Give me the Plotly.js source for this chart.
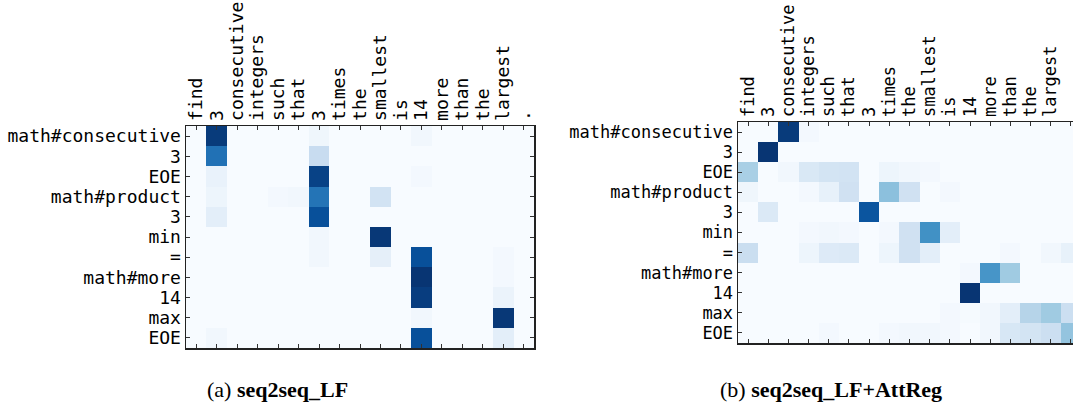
<!DOCTYPE html>
<html>
<head>
<meta charset="utf-8">
<script src="https://cdn.plot.ly/plotly-3.0.1.min.js"></script>
<style>
  html, body { margin: 0; padding: 0; background: #fff; overflow: hidden; width: 1073px; height: 405px; }
  #chart { width: 1090px; height: 405px; }
</style>
</head>
<body>
<div id="chart"></div>
<script>
// Input tokens (columns) and output tokens (rows)
const inputTokens = ["find", "3", "consecutive", "integers", "such", "that", "3", "times", "the", "smallest", "is", "14", "more", "than", "the", "largest", "."];
const outputTokens = ["math#consecutive", "3", "EOE", "math#product", "3", "min", "=", "math#more", "14", "max", "EOE"];
// the right panel is cropped at the image edge: only the first 16 input labels are visible
const visibleRightLabels = 16;

// (a) seq2seq_LF attention weights (rows = outputTokens, cols = inputTokens)
const attnLF = [
  [0, 0.96, 0, 0, 0, 0, 0.04, 0, 0, 0, 0, 0.03, 0, 0, 0, 0, 0],
  [0, 0.75, 0, 0, 0, 0, 0.24, 0, 0, 0, 0, 0, 0, 0, 0, 0, 0],
  [0, 0.07, 0, 0, 0, 0, 0.93, 0, 0, 0, 0, 0.02, 0, 0, 0, 0, 0],
  [0, 0.05, 0, 0, 0.02, 0.03, 0.74, 0, 0, 0.19, 0, 0, 0, 0, 0, 0, 0],
  [0, 0.10, 0, 0, 0, 0, 0.88, 0, 0, 0, 0, 0, 0, 0, 0, 0, 0],
  [0, 0, 0, 0, 0, 0, 0.03, 0, 0, 0.97, 0, 0, 0, 0, 0, 0, 0],
  [0, 0, 0, 0, 0, 0, 0.03, 0, 0, 0.09, 0, 0.88, 0, 0, 0, 0.02, 0],
  [0, 0, 0, 0, 0, 0, 0, 0, 0, 0, 0, 0.98, 0, 0, 0, 0.02, 0],
  [0, 0, 0, 0, 0, 0, 0, 0, 0, 0, 0, 0.95, 0, 0, 0, 0.06, 0],
  [0, 0, 0, 0, 0, 0, 0, 0, 0, 0, 0, 0.03, 0, 0, 0, 0.97, 0],
  [0, 0.03, 0, 0, 0, 0, 0, 0, 0, 0, 0, 0.88, 0, 0, 0, 0.10, 0]
];

// (b) seq2seq_LF+AttReg attention weights
const attnAttReg = [
  [0, 0, 0.96, 0.02, 0, 0, 0, 0, 0, 0, 0, 0, 0, 0, 0, 0, 0],
  [0, 0.98, 0, 0, 0, 0, 0, 0, 0, 0, 0, 0, 0, 0, 0, 0, 0],
  [0.34, 0, 0.03, 0.15, 0.18, 0.19, 0, 0.05, 0.03, 0.02, 0, 0, 0, 0, 0, 0, 0],
  [0.04, 0, 0, 0.02, 0.08, 0.20, 0, 0.42, 0.20, 0, 0.02, 0, 0, 0, 0, 0, 0],
  [0, 0.14, 0, 0, 0, 0, 0.86, 0, 0, 0, 0, 0, 0, 0, 0, 0, 0],
  [0, 0, 0, 0.02, 0.03, 0.02, 0, 0.02, 0.20, 0.63, 0.10, 0, 0, 0, 0, 0, 0],
  [0.23, 0, 0, 0.05, 0.13, 0.14, 0, 0.05, 0.20, 0.10, 0, 0, 0, 0.02, 0, 0.03, 0.08],
  [0, 0, 0, 0, 0, 0, 0, 0, 0, 0, 0, 0.02, 0.61, 0.37, 0, 0, 0],
  [0, 0, 0, 0, 0, 0, 0, 0, 0, 0, 0, 0.98, 0, 0, 0, 0, 0],
  [0, 0, 0, 0, 0, 0, 0, 0, 0, 0, 0.02, 0.01, 0.03, 0.10, 0.30, 0.37, 0.22],
  [0, 0, 0, 0, 0.02, 0, 0, 0.02, 0.03, 0.03, 0.02, 0, 0.03, 0.16, 0.18, 0.22, 0.40]
];

const captionA = "(a) <b>seq2seq_LF</b>";
const captionB = "(b) <b>seq2seq_LF+AttReg</b>";

const blues = [
  [0.0, "#f7fbff"], [0.125, "#deebf7"], [0.25, "#c6dbef"], [0.375, "#9ecae1"],
  [0.5, "#6baed6"], [0.625, "#4292c6"], [0.75, "#2171b5"], [0.875, "#08519c"], [1.0, "#08306b"]
];

const xIdx = inputTokens.map((_, i) => i);
const yIdx = outputTokens.map((_, i) => i);

const W = 1090, H = 405;
const px = v => v / W;
const py = v => 1 - v / H;

function heat(z, xa, ya) {
  return {
    type: "heatmap", z: z, x: xIdx, y: yIdx, xaxis: xa, yaxis: ya,
    colorscale: blues, zmin: 0, zmax: 1, showscale: false, hoverinfo: "skip"
  };
}

const monoFont = (s) => ({ family: "DejaVu Sans Mono, Liberation Mono, monospace", size: s, color: "#000" });

function xAxis(domain, anchor, fs, labels) {
  return {
    domain: domain, anchor: anchor, side: "top",
    tickmode: "array", tickvals: xIdx, ticktext: labels, tickangle: -90,
    range: [-0.5, inputTokens.length - 0.5],
    ticks: "inside", ticklen: 4, tickwidth: 1, tickcolor: "#333",
    showline: true, linecolor: "#222", linewidth: 1.5, mirror: "ticks",
    showgrid: false, zeroline: false, tickfont: monoFont(fs), fixedrange: true
  };
}
function yAxis(domain, anchor, fs) {
  return {
    domain: domain, anchor: anchor,
    tickmode: "array", tickvals: yIdx, ticktext: outputTokens,
    range: [outputTokens.length - 0.5, -0.5],
    ticks: "inside", ticklen: 4, tickwidth: 1, tickcolor: "#333",
    showline: true, linecolor: "#222", linewidth: 1.5, mirror: "ticks",
    showgrid: false, zeroline: false, tickfont: monoFont(fs), fixedrange: true
  };
}

const rightLabels = inputTokens.map((t, i) => (i < visibleRightLabels ? t : ""));

const data = [heat(attnLF, "x", "y"), heat(attnAttReg, "x2", "y2")];

const capFont = { family: "Liberation Serif, Times New Roman, serif", size: 22, color: "#000" };

const layout = {
  width: W, height: H,
  margin: { l: 0, r: 0, t: 0, b: 0 },
  paper_bgcolor: "#fff", plot_bgcolor: "#fff",
  showlegend: false,
  xaxis: xAxis([px(186), px(534)], "y", 18, inputTokens),
  yaxis: yAxis([py(348), py(126)], "x", 18),
  xaxis2: xAxis([px(738), px(1081)], "y2", 17, rightLabels),
  yaxis2: yAxis([py(343), py(122)], "x2", 17),
  annotations: [
    { text: captionA, xref: "paper", yref: "paper", x: px(277), y: py(389), xanchor: "center", yanchor: "middle",
      showarrow: false, font: capFont },
    { text: captionB, xref: "paper", yref: "paper", x: px(831), y: py(389), xanchor: "center", yanchor: "middle",
      showarrow: false, font: capFont }
  ]
};

Plotly.newPlot("chart", data, layout, { staticPlot: true, displayModeBar: false });
</script>
</body>
</html>
